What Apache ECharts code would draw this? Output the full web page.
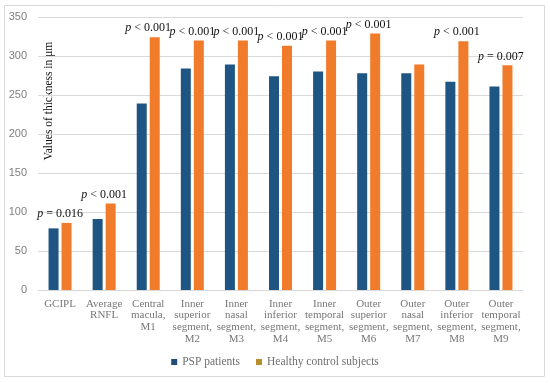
<!DOCTYPE html>
<html>
<head>
<meta charset="utf-8">
<script src="https://cdn.jsdelivr.net/npm/echarts@6/dist/echarts.min.js"></script>
<style>html,body{margin:0;padding:0;background:#fff}#c{width:550px;height:383px}</style>
</head>
<body>
<div id="c"></div>
<script>
const categories = ["GCIPL", "Average\nRNFL", "Central\nmacula,\nM1", "Inner\nsuperior\nsegment,\nM2", "Inner\nnasal\nsegment,\nM3", "Inner\ninferior\nsegment,\nM4", "Inner\ntemporal\nsegment,\nM5", "Outer\nsuperior\nsegment,\nM6", "Outer\nnasal\nsegment,\nM7", "Outer\ninferior\nsegment,\nM8", "Outer\ntemporal\nsegment,\nM9"];
const pspValues = [79, 91, 239, 284, 289, 274, 280, 278, 278, 267, 261];
const healthyValues = [86, 111, 324, 320, 320, 313, 320, 329, 289, 319, 288];
const pValueOps = ["=", "<", "<", "<", "<", "<", "<", "<", "", "<", "="];
const pValueNums = ["0.016", "0.001", "0.001", "0.001", "0.001", "0.001", "0.001", "0.001", "", "0.001", "0.007"];
const yTicks = [0, 50, 100, 150, 200, 250, 300, 350];
const seriesNames = ["PSP patients", "Healthy control subjects"];

const chart = echarts.init(document.getElementById('c'));
const serif = '"Liberation Serif", "Times New Roman", serif';
chart.setOption({
  animation: false,
  grid: {left: 38, right: 27, top: 17, bottom: 93},
  graphic: [
    {type: 'rect', shape: {x: 4.5, y: 5.5, width: 540, height: 371}, style: {fill: 'none', stroke: '#d9d9d9', lineWidth: 1}, z: -1},
    {type: 'text', x: 49, y: 101, rotation: Math.PI / 2, style: {text: 'Values of thickness in μm', font: '11.5px ' + serif, fill: '#111', textAlign: 'center', textVerticalAlign: 'middle'}}
  ],
  legend: {
    bottom: 10, left: 'center', itemWidth: 6, itemHeight: 6, itemGap: 16,
    icon: 'rect',
    textStyle: {fontFamily: serif, fontSize: 11.5, color: '#6f6f6f'},
    data: [
      {name: seriesNames[0], itemStyle: {color: '#1f4e79'}},
      {name: seriesNames[1], itemStyle: {color: '#b8902b'}}
    ]
  },
  xAxis: {
    type: 'category', data: categories,
    axisLine: {lineStyle: {color: '#d9d9d9'}},
    axisTick: {show: false},
    axisLabel: {interval: 0, fontFamily: serif, fontSize: 11, color: '#777777', lineHeight: 11.7, margin: 8}
  },
  yAxis: {
    type: 'value', min: yTicks[0], max: yTicks[yTicks.length - 1], interval: 50,
    axisLine: {show: false}, axisTick: {show: false},
    splitLine: {lineStyle: {color: '#d9d9d9'}},
    axisLabel: {fontFamily: '"Liberation Sans", Arial, sans-serif', fontSize: 11, color: '#7f7f7f', margin: 11}
  },
  series: [
    {name: seriesNames[0], type: 'bar', data: pspValues, barWidth: 10, barGap: '30%', itemStyle: {color: '#1f5582'}},
    {name: seriesNames[1], type: 'bar', data: healthyValues, barWidth: 10, itemStyle: {color: '#f07b2a'},
     label: {
       show: true, position: 'top', distance: 3, offset: [-6.5, 0],
       formatter: p => pValueOps[p.dataIndex] ? '{i|p} ' + pValueOps[p.dataIndex] + ' ' + pValueNums[p.dataIndex] : '',
       fontFamily: serif, fontSize: 12, color: '#111',
       rich: {i: {fontFamily: serif, fontStyle: 'italic', fontSize: 12, color: '#111'}}
     }}
  ]
});
</script>
</body>
</html>
